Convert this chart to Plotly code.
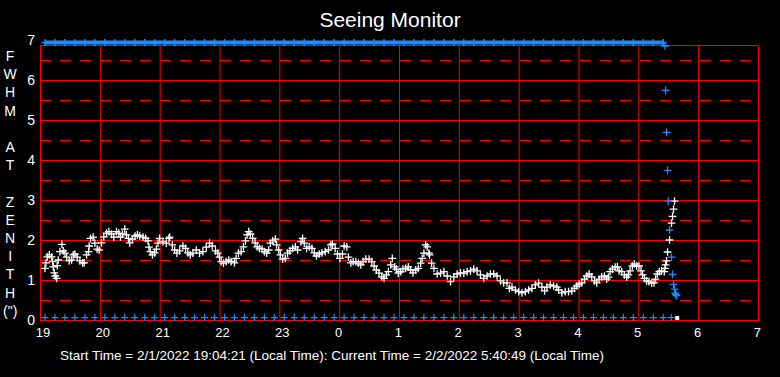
import plotly.graph_objects as go

START_HOUR = 19  # minutes below are counted from 19:00 local time

# FWHM at zenith (white series): minutes after 19:00, arcsec
white_minutes = [5.0, 6.0, 7.3, 9.3, 11.7, 12.7, 13.3, 14.3, 15.3, 16.7, 17.3, 18.3, 20.0, 22.0, 23.3,
                 25.0, 26.7, 29.3, 31.7, 33.3, 35.0, 37.3, 40.0, 42.7, 44.3, 46.7, 48.7, 49.3, 50.7,
                 53.3, 55.0, 57.3, 59.3, 61.7, 64.0, 66.7, 69.0, 71.7, 74.0, 76.7, 79.0, 80.7, 82.7,
                 85.0, 86.7, 88.7, 90.0, 92.7, 95.3, 97.7, 100.0, 103.3, 106.0, 108.3, 109.3, 110.7,
                 112.7, 115.0, 116.7, 118.3, 120.0, 123.3, 126.7, 129.3, 130.0, 132.7, 135.0, 137.3,
                 140.0, 143.3, 146.0, 148.3, 150.7, 153.3, 156.7, 160.0, 163.3, 166.7, 170.0, 172.7,
                 176.0, 178.3, 180.0, 181.7, 184.0, 186.7, 189.3, 191.7, 195.0, 196.7, 199.0, 201.7,
                 204.0, 206.0, 207.7, 209.3, 211.0, 213.3, 215.7, 217.7, 220.0, 222.7, 225.0, 227.3,
                 229.3, 231.0, 233.3, 236.0, 237.3, 239.3, 241.0, 243.3, 246.0, 248.3, 250.7, 253.3,
                 256.0, 258.3, 261.7, 263.3, 265.0, 267.3, 270.0, 272.7, 275.0, 277.3, 280.0, 282.7,
                 286.0, 289.3, 291.7, 293.3, 296.0, 298.3, 300.7, 303.3, 305.0, 307.7, 309.3, 311.7,
                 314.0, 316.7, 319.3, 321.7, 324.0, 326.7, 330.0, 332.7, 335.0, 337.3, 340.0, 342.7,
                 345.0, 347.3, 349.3, 351.7, 353.3, 355.7, 357.3, 359.3, 361.7, 364.0, 366.7, 369.3,
                 371.7, 374.0, 376.7, 379.3, 381.7, 383.3, 385.0, 386.7, 388.3, 390.0, 390.7, 392.7,
                 395.0, 398.3, 401.7, 405.0, 408.3, 411.7, 415.0, 418.3, 421.7, 425.0, 428.3, 431.7,
                 435.0, 438.3, 441.7, 445.0, 448.3, 451.7, 455.0, 458.3, 461.7, 465.0, 468.3, 470.7,
                 473.3, 476.7, 480.0, 483.3, 486.7, 490.0, 493.3, 496.7, 500.0, 503.3, 506.0, 508.3,
                 511.7, 515.0, 518.3, 520.0, 523.3, 526.7, 530.0, 533.3, 536.0, 538.3, 540.7, 543.3,
                 546.0, 548.3, 550.7, 553.3, 556.0, 558.3, 560.7, 563.3, 566.0, 568.3, 570.0, 571.7,
                 574.0, 576.7, 579.0, 580.7, 583.3, 586.0, 588.3, 590.0, 591.7, 594.0, 596.0, 598.3,
                 600.7, 602.7, 604.3, 606.0, 608.3, 610.7, 613.3, 615.7, 617.3, 619.0, 621.0, 623.3,
                 626.0, 626.7, 627.3, 628.3, 629.3, 631.3, 633.3, 634.3, 635.3, 636.3]
white_fwhm = [1.29, 1.43, 1.58, 1.63, 1.58, 1.46, 1.33, 1.18, 1.10, 1.04, 1.36, 1.50, 1.71, 1.89, 1.73,
              1.67, 1.57, 1.48, 1.50, 1.63, 1.65, 1.57, 1.48, 1.43, 1.43, 1.63, 1.71, 1.85, 2.04,
              2.07, 1.92, 1.77, 1.75, 1.93, 2.08, 2.17, 2.21, 2.15, 2.07, 2.21, 2.17, 2.07, 2.15,
              2.27, 2.13, 2.04, 1.93, 2.02, 2.10, 2.13, 2.10, 2.07, 2.04, 1.98, 1.82, 1.71,
              1.63, 1.68, 1.77, 1.92, 2.04, 1.96, 1.92, 2.04, 2.07, 1.88, 1.75, 1.67,
              1.73, 1.85, 1.79, 1.68, 1.63, 1.67, 1.75, 1.67, 1.71, 1.82, 1.92, 1.85,
              1.73, 1.67, 1.57, 1.46, 1.42, 1.46, 1.50, 1.46, 1.43, 1.54, 1.67, 1.71,
              1.83, 1.98, 2.13, 2.21, 2.15, 2.04, 1.93, 1.83, 1.79, 1.77, 1.71, 1.67,
              1.75, 1.92, 1.98, 2.02, 1.88, 1.75, 1.63, 1.52, 1.54, 1.67, 1.73, 1.79,
              1.83, 1.75, 1.96, 2.04, 1.92, 1.79, 1.83, 1.79, 1.68, 1.60, 1.65, 1.68,
              1.71, 1.75, 1.88, 1.90, 1.79, 1.65, 1.54, 1.65, 1.85, 1.83, 1.57, 1.43,
              1.46, 1.46, 1.42, 1.38, 1.46, 1.52, 1.52, 1.46, 1.35, 1.25, 1.17, 1.08,
              1.04, 1.13, 1.21, 1.38, 1.54, 1.33, 1.27, 1.17, 1.21, 1.27, 1.29, 1.33,
              1.25, 1.18, 1.25, 1.29, 1.42, 1.54, 1.67, 1.88, 1.83, 1.67, 1.63, 1.42,
              1.29, 1.15, 1.17, 1.21, 1.10, 0.96, 1.08, 1.15, 1.18, 1.17, 1.21, 1.23,
              1.27, 1.23, 1.13, 1.04, 1.10, 1.15, 1.15, 1.10, 0.98, 0.93, 0.93, 0.79,
              0.82, 0.75, 0.71, 0.68, 0.71, 0.75, 0.79, 0.88, 0.92, 0.82, 0.73, 0.82,
              0.88, 0.85, 0.82, 0.75, 0.68, 0.71, 0.71, 0.73, 0.79, 0.85, 0.90, 0.93,
              1.02, 1.10, 1.15, 1.08, 0.98, 0.93, 1.02, 1.08, 1.10, 1.02, 1.07, 1.21,
              1.27, 1.32, 1.33, 1.23, 1.21, 1.13, 1.07, 1.13, 1.23, 1.35, 1.40, 1.35,
              1.35, 1.23, 1.13, 1.04, 0.98, 0.96, 0.92, 0.93, 1.02, 1.15, 1.21, 1.23,
              1.21, 1.29, 1.38, 1.48, 1.70, 2.00, 2.42, 2.59, 2.77, 2.97]

# Blue series: 10-minute samples (saturated at top, floor row at bottom)
sample_minutes = [5, 15, 25, 35, 45, 55, 65, 75, 85, 95, 105, 115, 125, 135, 145, 155, 165, 175,
                  185, 195, 205, 215, 225, 235, 245, 255, 265, 275, 285, 295, 305, 315, 325, 335,
                  345, 355, 365, 375, 385, 395, 405, 415, 425, 435, 445, 455, 465, 475, 485, 495,
                  505, 515, 525, 535, 545, 555, 565, 575, 585, 595, 605, 615, 625, 633]
blue_top_value = 6.94
blue_floor_value = 0.06
blue_drop_minutes = [626.7, 627.3, 628.3, 629.3, 630.0, 631.3, 633.3, 634.3, 635.3, 636.3, 637.0, 637.5, 638.3]
blue_drop_values = [6.85, 5.74, 4.69, 3.74, 2.97, 2.25, 1.57, 1.14, 0.89, 0.77, 0.67, 0.64, 0.61]

current_minute = [639.0]
current_value = [0.05]

x_tick_vals = [19, 20, 21, 22, 23, 24, 25, 26, 27, 28, 29, 30, 31]
x_tick_text = ["19", "20", "21", "22", "23", "0", "1", "2", "3", "4", "5", "6", "7"]
y_tick_vals = [0, 1, 2, 3, 4, 5, 6, 7]

def to_hours(mins):
    return [START_HOUR + m / 60.0 for m in mins]

RED = "#ff0000"
BLUE = "#1e8cff"
FONT = "Liberation Sans, Arial, sans-serif"
HX = 0.5 / 60.0   # half a pixel in hours
HY = 0.5 / 40.0   # half a pixel in FWHM units

fig = go.Figure()

top_minutes = [m for m in sample_minutes if m <= 625]
fig.add_trace(go.Scatter(
    x=to_hours(top_minutes), y=[blue_top_value] * len(top_minutes),
    mode="lines+markers", line=dict(color=BLUE, width=4),
    marker=dict(symbol="cross-thin", size=5, line=dict(color=BLUE, width=1.5)),
    cliponaxis=False, hoverinfo="skip"))

fig.add_trace(go.Scatter(
    x=to_hours(sample_minutes), y=[blue_floor_value] * len(sample_minutes),
    mode="markers",
    marker=dict(symbol="cross-thin", size=5, line=dict(color=BLUE, width=1.2)),
    cliponaxis=False))

fig.add_trace(go.Scatter(
    x=to_hours(white_minutes), y=white_fwhm, mode="markers",
    marker=dict(symbol="cross-thin", size=5.5, line=dict(color="white", width=1.3)),
    cliponaxis=False))

fig.add_trace(go.Scatter(
    x=to_hours(blue_drop_minutes), y=blue_drop_values, mode="markers",
    marker=dict(symbol="cross-thin", size=5.5, line=dict(color=BLUE, width=1.3)),
    cliponaxis=False))

fig.add_trace(go.Scatter(
    x=to_hours(current_minute), y=current_value, mode="markers",
    marker=dict(symbol="square", size=4, color="white"),
    cliponaxis=False))

shapes = []
x0, x1 = x_tick_vals[0], x_tick_vals[-1]
y_top = 6.875
for xv in x_tick_vals[:-1]:
    shapes.append(dict(type="line", x0=xv + HX, x1=xv + HX, y0=0 + HY, y1=y_top - HY, xref="x", yref="y",
                       line=dict(color=RED, width=1), layer="below"))
for yv in [1, 2, 3, 4, 5, 6, y_top]:
    shapes.append(dict(type="line", x0=x0, x1=x1, y0=yv - HY, y1=yv - HY, xref="x", yref="y",
                       line=dict(color=RED, width=1), layer="below"))
for yv in [0.5, 1.5, 2.5, 3.5, 4.5, 5.5, 6.5]:
    shapes.append(dict(type="line", x0=x0, x1=x1, y0=yv - HY, y1=yv - HY, xref="x", yref="y",
                       line=dict(color=RED, width=1, dash="11px,9px"), layer="below"))
# right and bottom frame edges sit on the plot-area boundary; draw them in paper coords
shapes.append(dict(type="line", x0=1 + 0.5 / 720, x1=1 + 0.5 / 720, y0=-0.5 / 280, y1=y_top / 7 - 0.5 / 280,
                   xref="paper", yref="paper", line=dict(color=RED, width=1), layer="below"))
shapes.append(dict(type="line", x0=0, x1=1 + 1 / 720, y0=-0.5 / 280, y1=-0.5 / 280,
                   xref="paper", yref="paper", line=dict(color=RED, width=1), layer="below"))

ylabel = "<br>".join(["F", "W", "H", "M", "\u00a0", "A", "T", "\u00a0", "Z", "E", "N", "I", "T", "H", "(\")"])

fig.update_layout(
    width=780, height=377,
    margin=dict(l=40, r=20, t=40, b=57),
    paper_bgcolor="black", plot_bgcolor="black",
    showlegend=False,
    font=dict(family=FONT, color="white"),
    title=dict(text="Seeing Monitor", x=0.5, xanchor="center", y=1 - 20 / 377, yanchor="middle",
               font=dict(family=FONT, size=21, color="white")),
    xaxis=dict(range=[x0, x1], tickvals=x_tick_vals,
               ticktext=[t if len(t) == 2 else t + "\u00a0\u00a0" for t in x_tick_text],
               ticklabelshift=3, ticklabelstandoff=3, showgrid=False,
               zeroline=False, showline=False, ticks="", tickfont=dict(family=FONT, size=13, color="white")),
    yaxis=dict(range=[0, 7], tickvals=y_tick_vals, showgrid=False, zeroline=False, showline=False,
               ticks="", ticklabelstandoff=4, tickfont=dict(family=FONT, size=14, color="white")),
    shapes=shapes,
    annotations=[
        dict(text=ylabel, xref="paper", yref="paper", x=-30 / 720, y=0.487, xanchor="center",
             yanchor="middle", showarrow=False, align="center",
             font=dict(family=FONT, size=14, color="white")),
        dict(text="Start Time = 2/1/2022 19:04:21 (Local Time): Current Time = 2/2/2022 5:40:49 (Local Time)",
             xref="paper", yref="paper", x=(333 - 40) / 720, y=-35 / 280, xanchor="center",
             yanchor="middle", showarrow=False, font=dict(family=FONT, size=13.5, color="white")),
    ],
)

fig.write_html("out.html", config={"displayModeBar": False},
               post_script="document.body.style.margin='0';document.body.style.overflow='hidden';")
